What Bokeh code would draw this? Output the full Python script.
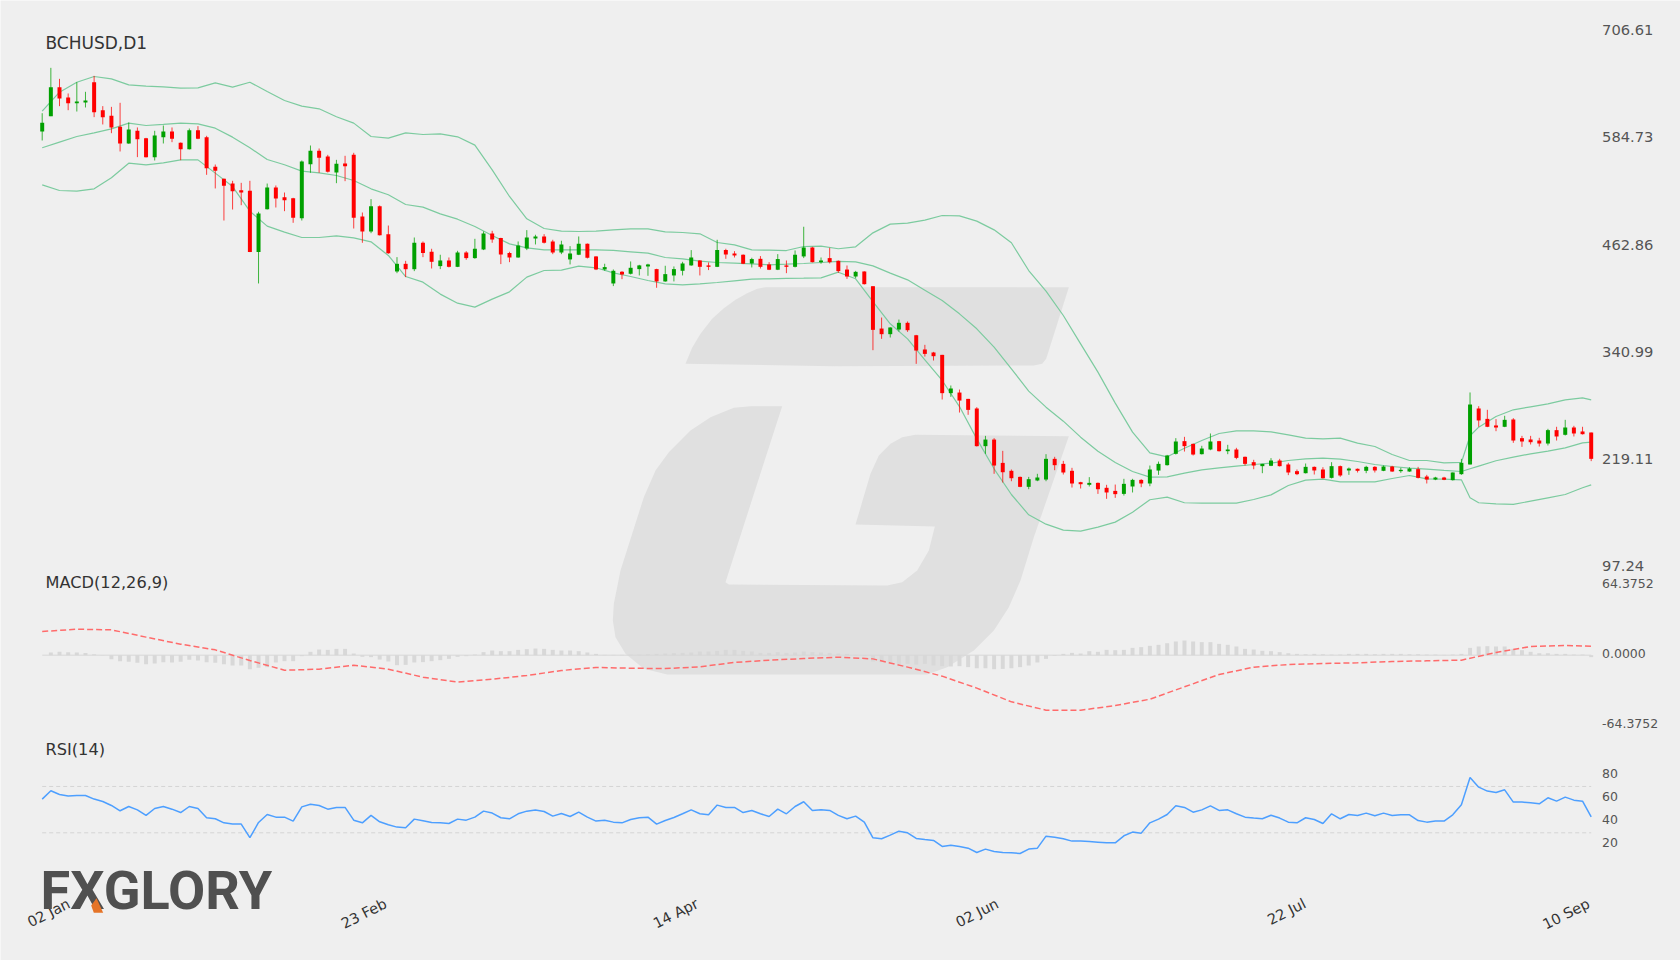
from bokeh.plotting import figure
from bokeh.models import (Range1d, LinearAxis, FixedTicker,
                          ColumnDataSource, Label)
from bokeh.embed import file_html
from bokeh.resources import INLINE

symbol_title = "BCHUSD,D1"
macd_title = "MACD(12,26,9)"
rsi_title = "RSI(14)"
logo_text = "FXGLORY"

opens = [592.8,610.2,643.2,631.4,625.0,625.7,648.8,617.0,610.6,598.1,579.2,593.6,585.2,563.7,586.4,592.8,579.9,572.7,594.3,586.4,
552.7,539.0,533.7,526.2,525.4,455.8,504.6,529.2,518.2,517.1,494.4,555.7,570.9,564.4,546.2,556.5,566.3,496.3,479.2,508.0,
476.2,433.8,442.5,436.4,466.4,456.2,439.9,446.3,439.1,455.4,449.0,458.8,477.0,471.7,454.7,449.7,460.0,471.3,473.6,467.9,
455.4,447.5,452.8,465.3,450.9,436.1,420.2,433.5,431.2,436.5,439.5,436.5,422.5,429.3,434.6,440.7,446.3,440.7,439.1,458.1,
454.3,452.8,442.9,448.2,441.8,435.8,440.7,439.1,450.9,461.1,444.4,449.0,445.9,436.0,428.1,433.8,417.1,369.0,362.6,367.9,
375.5,361.4,345.2,341.8,339.1,295.6,296.3,289.1,278.2,235.4,242.9,216.4,207.4,200.5,189.2,196.4,197.5,221.0,215.3,207.4,
194.5,191.5,193.7,188.1,184.6,181.2,189.6,197.1,193.0,207.7,213.8,226.7,241.1,238.0,226.3,231.6,241.1,229.7,231.6,223.3,
217.2,212.7,213.1,219.1,214.6,207.0,204.7,211.9,208.9,199.4,212.7,207.8,209.7,207.4,211.9,207.4,212.3,207.0,206.6,209.3,
200.9,197.5,199.8,196.8,203.6,214.6,278.2,266.4,258.9,257.4,265.7,244.5,243.0,241.8,238.4,253.6,248.3,256.6,252.1,250.9]

closes = [602.7,643.2,630.3,625.0,626.9,628.0,614.8,609.1,597.4,579.2,595.1,584.1,563.7,588.3,592.8,584.5,572.7,594.3,584.5,551.2,
548.1,531.1,525.0,523.5,455.8,499.7,529.2,516.7,514.8,494.8,558.7,570.9,562.9,547.0,556.1,553.4,494.8,479.2,508.0,475.1,
454.6,442.5,436.4,466.4,454.7,444.8,446.3,439.1,455.4,449.0,459.6,477.0,470.2,453.2,449.7,463.4,472.5,473.6,466.4,455.4,
464.5,454.3,465.3,449.4,436.1,438.8,434.6,430.4,438.0,440.7,441.8,422.5,430.8,436.5,442.9,449.7,439.1,439.1,458.1,453.2,
452.0,442.6,447.9,439.1,435.8,447.9,439.1,452.8,461.1,444.4,446.3,444.4,434.2,428.1,433.4,419.4,367.5,362.6,370.2,375.5,
367.1,344.0,340.2,337.6,295.6,300.9,287.2,276.6,235.4,242.9,213.4,205.8,199.0,189.2,197.9,199.8,221.0,213.8,205.5,193.0,
192.2,193.7,186.5,182.8,180.9,192.6,197.1,193.0,208.9,215.3,224.8,240.7,235.4,225.9,232.7,240.7,229.7,231.6,222.1,215.3,
213.4,215.3,219.1,212.7,205.5,203.6,211.9,207.8,199.0,212.7,202.1,210.0,207.4,211.9,207.8,212.3,206.6,208.5,210.0,199.4,
197.5,199.8,197.2,205.5,216.5,282.7,264.6,257.4,256.6,265.3,241.8,240.7,239.9,238.4,253.6,246.4,256.6,249.8,249.0,221.0]

highs = [613.6,665.1,652.6,636.0,648.8,637.9,656.0,621.6,620.8,625.4,603.0,597.4,585.6,593.6,599.6,597.4,580.3,596.2,598.9,587.9,
555.3,539.4,536.8,534.5,536.8,501.6,533.7,531.5,523.5,517.5,559.9,576.9,573.5,566.3,560.6,565.2,568.6,500.8,516.0,508.8,
486.0,450.1,445.9,472.4,467.9,459.6,452.8,449.7,457.3,456.9,470.9,479.3,480.0,472.1,456.2,467.9,480.8,475.5,476.2,469.8,
468.7,462.6,473.6,465.6,451.2,442.6,436.1,434.2,445.2,441.4,442.6,436.9,440.3,439.5,444.8,458.1,446.7,444.1,469.8,459.6,
456.9,453.2,449.4,451.3,444.4,453.5,446.3,457.7,484.6,461.9,449.7,460.7,446.3,440.6,434.5,434.1,417.1,381.5,370.5,379.2,
377.0,361.8,350.5,342.5,339.1,304.3,299.7,289.1,279.7,247.1,244.5,230.1,208.9,200.9,200.5,204.0,226.3,223.3,218.7,210.8,
194.9,200.2,194.1,191.5,191.8,198.3,198.3,197.9,213.4,217.9,225.5,244.5,246.0,238.4,235.8,249.8,241.4,236.9,233.5,223.6,
219.9,215.3,221.8,221.0,216.5,208.9,215.7,212.3,211.5,217.2,213.4,211.2,210.0,213.1,212.7,213.4,213.1,210.8,211.5,211.9,
202.8,200.6,200.6,205.5,221.0,296.4,280.8,276.7,266.1,269.9,267.2,247.1,247.1,244.9,255.1,257.4,265.3,258.5,257.4,250.9]

lows = [582.6,610.2,621.6,617.0,615.5,620.1,609.1,600.8,590.9,570.1,578.8,563.7,563.3,559.9,579.2,580.7,560.2,572.4,584.1,543.6,
528.1,491.7,504.2,509.1,455.8,420.2,504.2,506.5,502.3,489.1,491.7,545.9,545.9,546.2,534.1,536.4,482.6,466.4,477.3,474.7,
453.9,431.9,427.4,434.2,450.1,437.2,436.5,438.4,438.8,447.1,448.2,458.1,466.4,442.2,444.4,449.4,458.1,464.5,465.6,453.5,
453.5,441.8,452.4,448.6,435.4,434.6,417.2,425.1,430.4,429.3,428.9,415.3,422.1,422.5,429.3,440.3,429.3,435.4,438.8,448.2,
449.7,442.2,438.4,437.2,435.4,435.4,431.9,438.4,449.0,444.1,442.6,442.9,432.3,425.4,426.2,419.0,344.4,357.3,358.8,365.6,
365.2,328.9,337.2,332.7,288.4,291.4,273.6,271.0,235.0,226.7,204.0,194.1,195.6,188.8,186.5,195.6,195.6,208.1,203.2,188.4,
187.3,189.6,181.2,175.6,176.7,179.3,182.8,188.8,189.9,202.8,213.4,225.9,229.3,224.8,225.9,230.8,229.3,226.3,220.6,213.4,
209.2,204.7,212.7,212.3,202.5,202.5,204.4,203.2,198.7,198.7,200.6,202.8,205.5,204.7,205.5,207.0,206.2,205.1,206.2,198.7,
193.0,196.8,196.8,196.4,202.8,214.6,257.4,257.0,252.4,257.0,239.2,234.6,237.3,235.0,236.2,241.8,247.5,246.4,248.6,218.4]

band_idx = [0,2,4,6,8,10,12,14,16,18,20,22,24,26,28,30,32,34,36,38,40,42,44,46,48,50,52,54,56,58,60,62,64,66,68,70,72,74,76,78,80,82,84,86,88,90,
92,94,96,98,100,102,104,106,108,110,112,114,116,118,120,122,124,126,128,130,132,134,136,138,140,142,144,146,148,150,152,154,156,158,160,162,164,165,166,168,170,172,174,176,178,179]

band_upper = [615.9,637.5,648.8,655.3,652.6,645.8,644.3,643.5,642.0,642.4,648.1,643.2,648.8,638.2,628.0,621.6,618.6,609.5,602.3,587.1,585.2,591.3,
589.4,590.2,586.8,577.3,549.3,519.0,493.6,482.6,479.6,479.2,479.6,481.1,482.3,482.3,478.9,478.1,476.6,466.7,464.1,458.4,458.0,457.6,462.2,462.6,459.6,
461.8,477.7,487.6,488.7,492.1,497.4,497.0,491.0,481.1,466.4,434.9,411.5,383.8,351.6,319.5,284.3,251.3,227.8,223.3,233.1,241.9,249.8,252.8,252.8,
251.7,248.3,244.5,243.7,244.5,238.8,235.0,225.9,219.1,219.1,216.5,216.9,247.2,257.0,269.1,276.7,280.1,283.5,288.0,290.3,288.0]

band_middle = [574.3,580.7,587.1,591.3,595.8,602.3,599.6,600.8,602.3,601.5,596.6,586.4,574.3,561.0,555.0,547.8,545.9,542.8,537.2,527.7,520.9,509.9,
506.9,499.3,493.2,484.9,474.7,465.2,460.7,458.4,458.4,458.4,458.4,457.7,456.1,454.6,449.7,448.2,445.5,444.0,443.3,442.5,441.4,442.1,442.9,444.0,445.2,
444.8,440.2,431.9,424.3,412.6,400.9,385.7,368.7,347.9,323.2,297.9,279.7,263.8,245.6,229.7,216.8,206.6,200.2,200.6,204.7,208.5,210.8,212.7,214.6,
216.1,219.1,221.0,221.8,220.6,218.0,214.6,212.3,210.4,209.3,207.8,206.6,209.7,212.7,218.8,222.9,226.7,229.7,233.5,239.2,240.0]

band_lower = [532.2,525.8,525.0,527.7,540.2,556.8,555.0,557.2,560.6,560.6,545.5,530.3,502.3,485.3,478.5,472.4,472.4,474.3,472.0,467.5,452.0,428.1,
421.7,408.1,397.8,393.3,402.4,410.7,427.4,434.9,435.3,439.9,438.0,432.3,428.1,423.6,419.8,418.6,419.8,421.3,423.2,425.1,425.5,425.9,426.2,426.6,433.0,
425.5,399.7,374.4,357.3,333.5,310.0,280.4,243.7,209.7,180.5,157.4,146.8,140.0,138.9,143.4,149.1,160.4,174.5,177.5,171.1,170.7,170.7,170.7,174.8,
180.1,190.7,196.8,197.9,194.9,194.9,194.9,198.7,202.1,198.3,197.9,197.2,176.7,171.1,169.9,169.2,173.0,176.7,180.5,188.1,191.5]

macd_hist = [0,2.5,3.1,2.8,2.5,2.1,0.9,-0.3,-3.7,-5.5,-6.1,-7.0,-8.3,-7.7,-6.4,-6.7,-6.1,-4.3,-4.9,-6.4,
-7.0,-8.3,-9.5,-9.5,-12.9,-11.6,-11.0,-6.7,-5.5,-5.5,-0.9,3.1,5.2,4.9,5.8,5.8,1.5,-1.5,-1.8,-4.0,
-5.8,-9.2,-8.9,-6.7,-6.4,-5.5,-4.6,-3.4,-1.5,-0.9,0.6,2.8,4.3,3.7,3.7,4.9,5.5,6.1,5.8,4.9,
4.3,4.3,3.7,2.5,1.2,0.3,0.3,0.3,0.6,0.6,0.9,1.2,1.5,1.8,2.1,2.5,3.4,3.4,4.0,4.9,
4.9,4.0,3.4,2.1,2.1,2.8,2.1,2.5,3.4,2.8,2.5,2.1,1.5,1.2,0.3,-0.9,-5.8,-6.4,-6.7,-8.0,
-8.0,-8.6,-8.0,-9.5,-10.1,-10.4,-10.1,-11.0,-12.0,-12.0,-12.9,-12.6,-12.0,-11.0,-9.5,-6.7,-3.4,-0.6,1.2,2.1,
1.5,3.7,3.1,4.9,4.6,4.9,6.7,7.4,8.6,9.5,11.0,12.6,13.5,12.6,12.0,12.0,10.4,9.5,8.0,5.8,
5.2,4.0,3.7,2.8,1.8,1.2,0.9,1.2,0.9,0.6,0.6,1.2,1.2,1.2,0.9,1.2,1.2,1.2,0.9,0.9,
0.6,0.6,0.3,0.6,1.2,6.7,8.0,8.3,8.0,8.0,5.8,4.6,3.1,1.8,1.8,1.2,1.2,0.6,0.6,-1.8]

signal_idx = [0,4,8,12,16,20,24,28,32,36,40,44,48,52,56,60,64,68,72,76,80,84,88,92,96,100,104,108,112,116,120,124,128,132,136,140,144,148,152,156,160,164,168,172,176,179]
signal_values = [21.8,23.9,23.3,16.6,10.1,4.9,-4.9,-13.8,-12.9,-9.2,-12.9,-20.2,-24.8,-22.1,-18.7,-14.1,-11.3,-12.0,-12.3,-10.7,-6.7,-4.6,-3.1,-1.8,-3.4,-11.0,-19.3,-30.3,-42.9,-50.6,-50.6,-46.3,-40.5,-29.1,-17.8,-11.0,-8.6,-7.7,-7.0,-5.8,-5.2,-4.6,2.5,8.0,8.9,8.3]

rsi_values = [59.1,66.3,63.1,61.7,62.2,62.2,59.1,57.0,53.6,49.0,52.7,49.8,45.0,51.0,52.7,50.4,47.5,52.7,51.0,43.0,
42.1,38.6,37.5,37.5,25.9,38.9,45.8,43.5,43.5,40.1,52.4,54.7,53.6,50.4,51.9,51.9,40.9,38.6,45.0,39.5,
36.9,34.9,34.3,41.8,40.4,38.9,38.6,38.0,41.8,40.9,43.5,48.7,47.0,43.0,42.1,46.4,48.7,49.6,48.4,44.4,
46.7,44.1,47.8,43.5,40.1,40.9,39.2,38.6,41.5,43.0,43.5,37.5,40.6,43.2,46.4,49.8,46.4,45.5,53.9,51.9,
51.9,47.5,49.3,46.4,44.1,50.4,46.4,52.7,56.8,49.3,49.8,49.3,45.0,42.1,44.4,39.2,25.7,24.8,28.0,31.4,
30.0,25.1,24.2,23.4,18.2,19.3,18.2,16.7,13.0,15.9,13.9,13.0,12.7,12.1,15.9,16.7,27.1,26.2,24.8,22.8,
22.8,22.5,21.9,21.3,21.3,27.4,30.6,29.7,38.6,41.8,45.8,53.3,51.9,47.8,49.8,53.3,49.3,49.8,46.4,43.5,
42.7,42.1,45.2,42.7,39.2,38.6,43.0,41.5,38.0,46.4,42.1,45.8,45.0,47.0,44.7,47.0,45.0,45.5,45.5,40.6,
39.2,40.1,40.1,45.5,54.2,77.8,69.4,66.0,64.8,67.1,56.5,56.5,55.9,55.0,60.2,57.3,60.8,58.2,57.3,43.8]
rsi_levels = [70, 30]

price_ticks = [706.61, 584.73, 462.86, 340.99, 219.11, 97.24]
price_labels = ["706.61", "584.73", "462.86", "340.99", "219.11", "97.24"]
macd_ticks = [64.3752, 0.0, -64.3752]
macd_labels = ["64.3752", "0.0000", "-64.3752"]
rsi_ticks = [80, 60, 40, 20]
rsi_labels = ["80", "60", "40", "20"]
date_ticks = [3.1, 39.7, 75.7, 110.4, 145.9, 178.7]
date_labels = ["02 Jan", "23 Feb", "14 Apr", "02 Jun", "22 Jul", "10 Sep"]

BG = "#efefef"
idx = list(range(len(opens)))

p = figure(width=1680, height=960, output_backend="svg", toolbar_location=None,
           x_range=Range1d(-4.819, 189.32), y_range=Range1d(-348.8, 741.6),
           x_axis_location=None, y_axis_location=None, min_border=0,
           background_fill_color=BG, border_fill_color=BG, outline_line_color=None)
p.grid.visible = False
p.extra_y_ranges = {"macd": Range1d(-280.8, 602.1), "rsi": Range1d(-80.3, 748.8),
                    "py": Range1d(960, 0)}
p.extra_x_ranges = {"px": Range1d(0, 1680)}

# watermark, traced in reference page pixels
def wm(points):
    return [600 + a / 3 for a, _ in points], [270 + b / 3 for _, b in points]
wm_top = [(255,280),(275,232),(300,190),(335,145),(370,113),(405,88),(440,68),(470,55),(495,50),(1405,50),(1337,265),(1325,280),(1300,285),(700,287)]
wm_body = [(545,407),(375,935),(385,942),(860,945),(905,935),(950,900),(985,840),(1003,768),(765,762),(810,610),(835,555),(870,520),(905,500),(945,493),
           (1405,497),(1300,800),(1260,930),(1225,1010),(1180,1080),(1120,1140),(1040,1190),(980,1212),(200,1212),(130,1195),(75,1150),
           (45,1100),(37,1050),(40,1000),(60,900),(130,680),(165,600),(205,545),(270,480),(330,440),(400,412),(450,407)]
for shape in (wm_top, wm_body):
    xs, ys = wm(shape)
    p.patch(xs, ys, x_range_name="px", y_range_name="py", fill_color="#e0e0e0", line_color=None)

# Bollinger bands
for band in (band_upper, band_middle, band_lower):
    p.line(band_idx, band, line_color="#7ccb9f", line_width=1.2)

# candles
src = ColumnDataSource(dict(
    x=idx, high=highs, low=lows,
    top=[max(a, b) for a, b in zip(opens, closes)],
    bottom=[min(a, b) for a, b in zip(opens, closes)],
    color=["#00a000" if c >= o else "#ff0000" for o, c in zip(opens, closes)],
))
p.segment("x", "high", "x", "low", source=src, line_color="color", line_width=1, line_alpha=0.75)
p.vbar("x", 0.46, "bottom", "top", source=src, fill_color="color", line_color=None)

# MACD
p.vbar(idx, 0.46, [0.0] * len(idx), macd_hist, y_range_name="macd", fill_color="#d8d8d8", line_color=None)
p.line([0, 179], [0, 0], y_range_name="macd", line_color="#d8d8d8", line_width=1)
p.line(signal_idx, signal_values, y_range_name="macd", line_color="#ff6b6b", line_width=1.5, line_dash="6 3")

# RSI
for lvl in rsi_levels:
    p.line([0, 179], [lvl, lvl], y_range_name="rsi", line_color="#d4d4d4", line_width=1, line_dash="4 3")
p.line(idx, rsi_values, y_range_name="rsi", line_color="#4d9fff", line_width=1.5)

# axes: labels sit about 1.4px above their exact level in the reference
def right_axis(ticks, labels, units_per_px, size, rng=None):
    kw = {"y_range_name": rng} if rng else {}
    lift = 1.4 * units_per_px
    positions = [t + lift for t in ticks]
    ax = LinearAxis(ticker=FixedTicker(ticks=positions),
                    major_label_overrides=dict(zip(positions, labels)),
                    axis_line_color=None, major_tick_line_color=None, minor_tick_line_color=None,
                    major_label_text_color="#555555", major_label_text_font="DejaVu Sans",
                    major_label_text_font_size=size, major_label_standoff=7,
                    fixed_location=178.75, **kw)
    p.add_layout(ax, "right")
right_axis(price_ticks, price_labels, 1.1358, "14.7px")
right_axis(macd_ticks, macd_labels, 0.9196, "12.5px", "macd")
right_axis(rsi_ticks, rsi_labels, 0.8636, "12.5px", "rsi")

date_ax = LinearAxis(ticker=FixedTicker(ticks=date_ticks),
                     major_label_overrides=dict(zip(date_ticks, date_labels)),
                     axis_line_color=None, major_tick_line_color=None, minor_tick_line_color=None,
                     major_label_text_color="#333333", major_label_text_font="DejaVu Sans",
                     major_label_text_font_size="14.5px", major_label_orientation=0.47,
                     major_label_standoff=4, fixed_location=-271.6)
p.add_layout(date_ax, "below")

# titles
for text, y, size in ((symbol_title, 42, "17px"), (macd_title, 581.7, "16.2px"), (rsi_title, 749, "16.2px")):
    p.add_layout(Label(x=45, y=y, x_range_name="px", y_range_name="py", text=text,
                       text_font="DejaVu Sans", text_font_size=size, text_color="#333333",
                       text_baseline="middle"))

# logo
p.add_layout(Label(x=40, y=890, x_range_name="px", y_range_name="py", text=logo_text,
                   text_font="Roboto", text_font_style="bold", text_font_size="54px",
                   text_color="#505050", text_baseline="middle"))
p.patch([90.7, 96, 102.7, 93.3], [905, 897.7, 912.3, 912.3], x_range_name="px", y_range_name="py",
        fill_color="#e57428", line_color=None, level="overlay")

open("out.html", "w").write(file_html(p, INLINE))
